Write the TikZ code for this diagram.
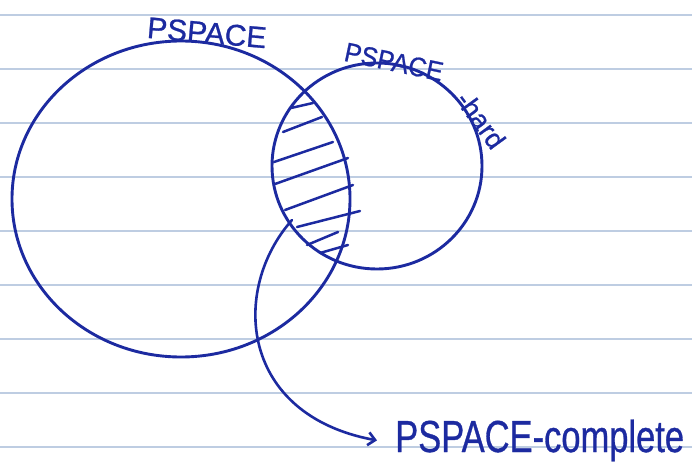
\documentclass[tikz,border=0pt]{standalone}
\usepackage{fontspec}
\setmainfont{Liberation Sans}
\newfontfamily\penfont[FakeBold=0.8]{Liberation Sans}
\usetikzlibrary{shapes.geometric,arrows.meta}
\definecolor{ink}{RGB}{28,42,160}
\definecolor{paperline}{RGB}{190,205,226}
\begin{document}
\begin{tikzpicture}[x=1pt,y=-1pt,
  setshape/.style={draw=ink, line width=2.9pt, ellipse, inner sep=0pt},
  hatch/.style={draw=ink, line width=2.5pt, line cap=round},
  rule/.style={draw=paperline, line width=1.2pt},
  lab/.style={text=ink, inner sep=0pt},
  link/.style={draw=ink, line width=2.6pt, line cap=round, -{Straight Barb[length=7pt,width=13pt]}}
  ]
\fill[white] (0,0) rectangle (692,465);
\useasboundingbox (0,0) rectangle (692,465);
\foreach \yy in {15,69,...,447} \draw[rule] (0,\yy) -- (692,\yy);

% sets
\node[setshape, minimum width=338pt, minimum height=316pt] (pspace) at (181,199) {};
\node[setshape, minimum width=210pt, minimum height=206pt] (hard) at (377,166) {};

% hatching of the intersection
\draw[hatch] (291,108) -- (313,103);
\draw[hatch] (283,132) -- (322,117);
\draw[hatch] (274,162) -- (333,142);
\draw[hatch] (275,184) -- (348,158);
\draw[hatch] (285,210) -- (353,185);
\draw[hatch] (297,227) -- (360,211);
\draw[hatch] (307,245) -- (338,232);
\draw[hatch] (320,253) -- (348,245);

% labels
\node[lab, rotate=-5, anchor=base, font=\penfont\fontsize{30}{30}\selectfont] (plabel) at (206,43) {PSPACE};
\node[lab, rotate=-12, anchor=base, font=\penfont\fontsize{27}{27}\selectfont] (hlabel) at (392,71)
  {\scalebox{0.93}[1]{PSPACE}};
\node[lab, rotate=-54, anchor=center, font=\penfont\fontsize{27}{27}\selectfont] (hsuffix) at (481,120)
  {-hard};
\node[lab, anchor=base west, font=\penfont\fontsize{34.5}{34.5}\selectfont] (complete) at (395,452)
  {\scalebox{1}[1.3]{PSPACE-complete}};

% arrow
\coordinate (cstart) at (292,220);
\draw[link] (cstart) .. controls (230,290) and (240,415) .. ([xshift=-18pt]complete.west);
\end{tikzpicture}
\end{document}
